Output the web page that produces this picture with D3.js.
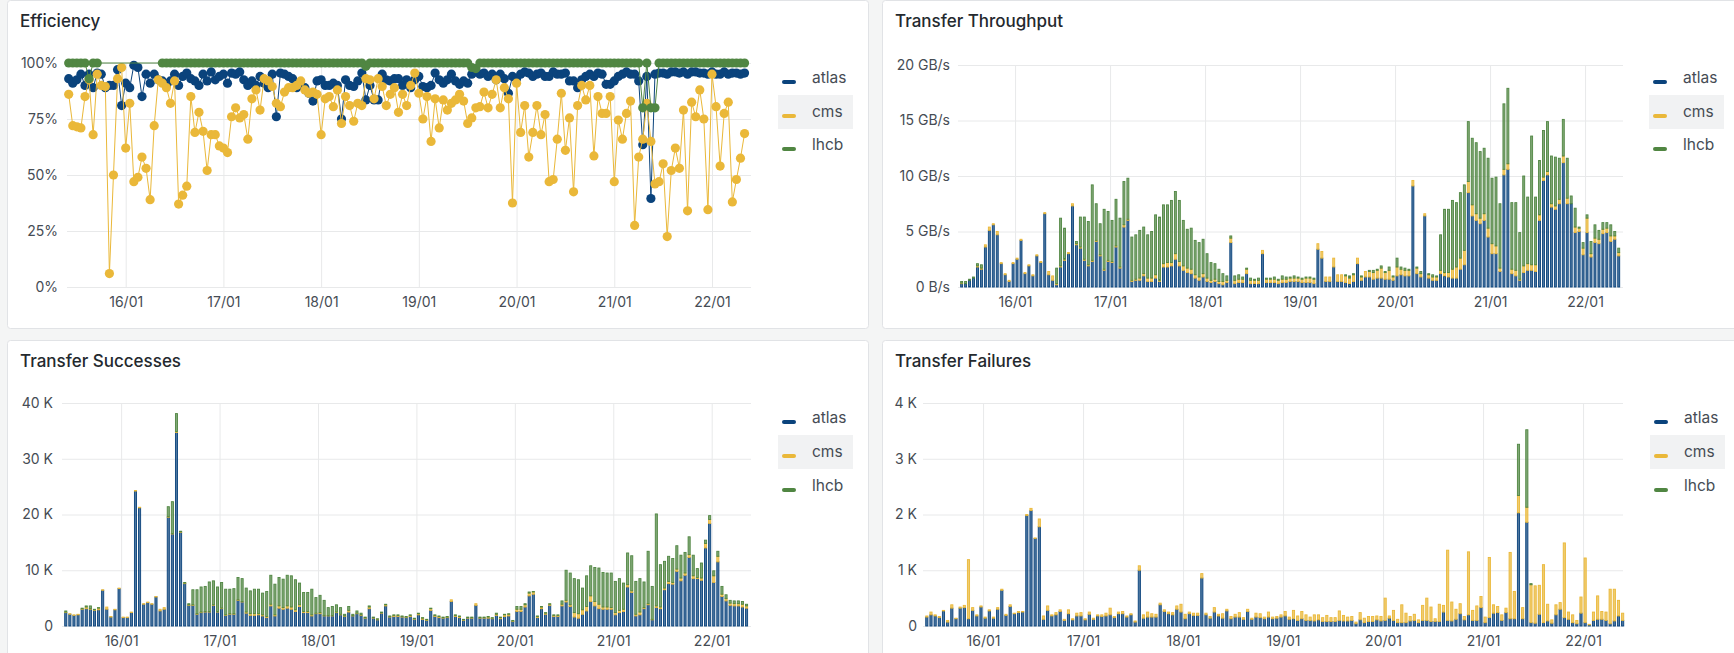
<!DOCTYPE html>
<html lang="en">
<head>
<meta charset="utf-8">
<script src="https://cdn.jsdelivr.net/npm/d3@7"></script>
<style>
  body { margin: 0; background: #f4f5f5; font-family: Inter, "Noto Sans", sans-serif; }
  svg { display: block; }
</style>
</head>
<body>
<svg id="dash" width="1734" height="653"></svg>
<script>
// experiments and their colours
var names = ["atlas", "cms", "lhcb"];
var colors = ["#0a437c", "#eab839", "#508642"];

// hourly samples start 15/01 10:00
var t0 = new Date(2024, 0, 15, 10, 0);
var domStart = new Date(2024, 0, 15, 9, 35);
var domEnd = new Date(2024, 0, 22, 9, 35);
var dayTicks = [16, 17, 18, 19, 20, 21, 22];

// Efficiency (%)
var effAtlas = [93,91,92.5,95,90,95,89,95.5,95,89,
  90,90,97,81,91,89,99,98,85,95,
  91,95,92.5,92,90,92,95,90,94,95.5,
  93,92,90,95,92,96,92.5,94,95,91,
  95.5,95,96,92.5,90,92,90,94,91,89,
  95,76,95.5,95,94,93,89,90,89,86.5,
  83,92,92.5,90,90,91,90,75,92.5,90,
  89.5,92,95.5,83.5,90,83.5,83.5,95,92.5,92,
  93,93,90,92.5,89,92.5,94,89.5,89,90,
  95.5,92.5,91,92.5,95,92,90.5,92,91,95,
  96,95,95.5,94,95,92.5,95,93,86.5,94,
  93,95,96,95.5,94,95,95.5,94,94,96,
  95,95,95.5,92,92,89,92.5,94,95,94,
  95.5,95,90.5,90.5,92,94,95,96,95,95,
  92,63.5,94,39.5,95,95.5,95.5,95,96,96,
  95.5,96,95,96,96,95.5,95.5,95,96,95,
  95,96,95,95.5,95.5,95,95.5];
var effCms = [86,72,71.5,71,85,92.5,68,95,90,89.5,
  6,50,93,98,62,82,47,49,58,53,
  39,72,92.5,91,89,82,92,37,41,45,
  85,69,78,69.5,52,68,68,63,62,60,
  76,80,75.5,77,66,84,88,79,93,92,
  89.5,82,80.5,87,89,89,90,92,88,86.5,
  87,86,68,84,85,80.5,88,73,85,81,
  74,82,81,93,92.5,84,93,89.5,81,86,
  89,78,86,81,90,95.5,86.5,75,85,65,
  84,71,83.5,79,82,83.5,86,83,73,75.5,
  80,80.5,87,80,86,92.5,80,89,84,37.5,
  91,69,81,58,69,81,68,77,47,48,
  66,86.5,61,75.5,42.5,81,90,83.5,90,58.5,
  85,77.5,77.5,85,47,74.5,66,77.5,83,27.5,
  58,66,82,65,46,47,55,22.5,52,62,
  53,79,34,82.5,76,88,75,34.5,95,80.5,
  54,77.5,82.5,38,48,57.5,68.5];
var effLhcb = [100,100,100,100,100,93,100,100,null,null,
  null,null,null,null,null,null,null,null,null,null,
  null,null,null,100,100,100,100,100,100,100,
  100,100,100,100,100,100,100,100,100,100,
  100,100,100,100,100,100,100,100,100,100,
  100,100,100,100,100,100,100,100,100,100,
  100,100,100,100,100,100,100,100,100,100,
  100,100,100,98.5,100,100,100,100,100,100,
  100,100,100,100,100,100,100,100,100,100,
  100,100,100,100,100,100,100,100,100,98,
  97.5,100,100,100,100,100,100,100,100,100,
  100,100,100,100,100,100,100,100,100,100,
  100,100,100,100,100,100,100,100,100,100,
  100,100,100,100,100,100,100,100,100,100,
  100,80,100,80,80,100,100,100,100,100,
  100,100,100,100,100,100,100,100,100,100,
  100,100,100,100,100,100,100];

// Transfer Throughput (GB/s)
var thrAtlas = [0.3,0.3,0.6,0.8,1.8,1.6,3.6,5.1,5.6,4.7,
  2.1,1.1,0.5,2.1,2.5,4.2,1.2,1.9,1.0,2.8,
  2.2,6.6,1.1,0.6,0.2,1.8,2.4,3.0,7.3,3.8,
  3.5,2.4,1.9,2.3,4.1,2.8,1.5,2.3,2.2,3.6,
  1.7,5.4,6.0,0.5,0.6,0.6,1.0,0.5,0.5,0.8,
  0.5,1.8,1.8,1.9,2.5,1.9,1.5,1.3,1.2,0.8,
  0.6,0.9,0.5,0.4,0.5,0.3,0.2,0.4,4.0,0.3,
  0.4,0.4,1.2,0.3,0.3,0.3,3.0,0.4,0.4,0.4,
  0.3,0.4,0.4,0.5,0.5,0.5,0.4,0.4,0.4,0.3,
  3.4,2.6,0.5,0.5,1.8,0.5,0.5,0.4,0.3,0.5,
  2.1,0.6,0.9,0.9,0.7,0.8,0.8,0.7,0.7,0.6,
  1.0,1.1,1.0,1.0,9.1,1.2,0.9,6.4,0.8,0.6,
  0.6,1.2,1.0,0.9,0.8,0.8,1.6,2.0,8.5,6.4,
  6.0,5.7,6.0,4.5,3.0,3.0,1.4,10.1,10.6,1.2,
  1.0,0.6,1.3,1.5,1.5,1.4,6.0,9.6,10.1,7.2,
  7.0,7.5,11.2,7.5,7.5,4.9,5.0,2.9,4.9,2.7,
  4.0,3.9,4.8,4.9,4.1,4.3,2.8];
var thrCms = [0.05,0,0,0,0.1,0.1,0.2,0.3,0.1,0.3,
  0.1,0.1,0.1,0.1,0.1,0.1,0.1,0.1,0.1,0.1,
  0.1,0.1,0.3,0.4,0.1,0.1,0.1,0.1,0.2,0.1,
  0.1,0.1,0.1,0.1,0.1,0.1,0.1,0.1,0.1,0.1,
  0.1,0.2,0.1,0.1,0.1,0.2,0.2,0.3,0.3,0.3,
  0.1,0.3,0.4,0.3,0.5,0.4,0.4,0.4,0.4,0.3,
  0.3,0.3,0.3,0.2,0.2,0.2,0.3,0.2,0.4,0.3,
  0.3,0.3,0.4,0.3,0.3,0.3,0.3,0.3,0.3,0.3,
  0.3,0.3,0.3,0.3,0.3,0.3,0.3,0.4,0.4,0.4,
  0.5,0.6,0.4,0.4,0.8,0.6,0.6,0.6,0.5,0.6,
  0.5,0.3,0.5,0.5,0.6,0.7,0.9,0.6,0.8,0.3,
  0.8,0.5,0.5,0.5,0.5,0.5,0.3,0.2,0.3,0.3,
  0.3,0.3,0.3,0.4,0.8,1.0,1.0,1.3,1.0,1.0,
  0.6,0.5,0.6,0.8,0.9,0.7,0.3,0.5,0.5,0.4,
  0.5,0.1,0.6,0.6,0.5,0.6,0.5,0.3,0.3,0.3,
  0.3,0.4,0.6,0.5,0,0.5,0.3,0.6,1.3,0.3,
  0.4,0.4,0.4,0.4,0.5,0.3,0.3];
var thrLhcb = [0.15,0.2,0.1,0.1,0.2,0.3,0,0,0,0,
  0,0,0,0,0,0,0,0,0,0,
  0,0,0,0,1.4,4.3,2.8,0,0,0.2,
  2.7,3.8,3.9,6.8,3.3,2.8,5.4,4.4,3.7,4.2,
  4.4,3.9,3.7,3.9,4.0,4.3,4.2,3.9,4.2,5.4,
  5.7,5.3,5.2,5.6,5.6,5.5,4.1,3.5,3.7,3.1,
  3.1,3.1,2.2,1.6,1.4,1.1,0.7,0.4,0.2,0.4,
  0.4,0.2,0.1,0.2,0.1,0.2,0,0.1,0.1,0.2,
  0.1,0.3,0.2,0.1,0.2,0.1,0.1,0.1,0.1,0.1,
  0,0,0,0,0,0,0,0.1,0.2,0.1,
  0,0.1,0,0.1,0.2,0.1,0.2,0.1,0.3,0.1,
  0.8,0.2,0.2,0.1,0,0.1,0.2,0,0.1,0.2,
  0.1,3.2,5.7,5.7,6.2,5.8,5.9,5.9,5.4,6.0,
  6.4,6.0,5.9,6.3,5.9,6.2,5.8,5.9,6.8,6.0,
  6.1,4.2,8.1,6.0,11.6,6.1,4.9,4.2,4.5,4.3,
  4.4,3.7,3.3,3.6,0.7,1.7,0.1,0.5,0.3,1.1,
  1.2,0.8,0.6,0.5,1.0,0.4,0.4];

// Transfer Successes (thousands)
var sucAtlas = [2.4,2.1,1.9,2.0,3.0,3.1,3.0,2.8,2.9,6.4,
  3.0,1.6,2.9,6.7,1.5,1.5,2.4,24.2,21.2,3.9,
  4.2,3.9,5.2,2.7,3.0,19.5,16.5,34.7,16.8,7.6,
  3.7,3.7,2.1,2.4,2.5,2.5,3.7,2.5,3.1,1.9,
  2.1,2.1,4.6,4.3,2.3,1.9,1.9,2.0,1.8,1.5,
  3.6,1.8,3.2,3.0,3.2,3.0,2.6,3.5,2.4,2.4,
  1.8,2.2,2.2,1.8,1.8,1.8,2.4,2.0,1.7,2.5,
  1.8,2.2,1.9,1.4,3.1,1.4,1.1,2.3,3.6,1.6,
  1.7,1.7,1.6,1.5,1.7,1.2,2.0,1.2,1.0,2.8,
  1.7,1.5,1.4,1.5,4.4,1.7,1.5,1.0,1.4,1.4,
  3.7,1.4,1.4,1.4,1.3,1.9,1.3,1.7,1.8,0.8,
  2.6,2.6,3.4,5.4,5.7,1.5,3.1,2.1,3.7,1.7,
  1.7,3.6,4.3,3.5,1.6,1.4,2.1,2.7,4.4,3.6,
  3.1,3.0,3.0,3.0,2.0,2.4,2.6,7.0,6.0,1.8,
  2.0,3.1,3.8,1.1,3.3,3.1,6.5,7.6,7.5,9.8,
  8.1,9.1,12.3,8.5,8.5,8.2,14.0,18.4,7.8,11.5,
  5.3,4.5,3.7,3.6,3.6,3.4,3.2];
var sucCms = [0.1,0.1,0.1,0.1,0.1,0.3,0.1,0.1,0.3,0.1,
  0.4,0.1,0.1,0.1,0.1,0.1,0.1,0.1,0.1,0.1,
  0.1,0.1,0.1,0.3,0.3,0.1,0.1,0.2,0.1,0.1,
  0.1,0.1,0.1,0.1,0.1,0.1,0.1,0.1,0.1,0.1,
  0.1,0.1,0.1,0.1,0.2,0.3,0.3,0.2,0.2,0.2,
  0.3,0.2,0.4,0.3,0.4,0.4,0.3,0.3,0.2,0.2,
  0.2,0.1,0.2,0.1,0.1,0.1,0.1,0.1,0.1,0.3,
  0.1,0.1,0.1,0.1,0.3,0.1,0.1,0.1,0.2,0.1,
  0.2,0.2,0.1,0.1,0.2,0.1,0.2,0.2,0.1,0.3,
  0.2,0.2,0.1,0.1,0.3,0.2,0.2,0.1,0.1,0.1,
  0.3,0.1,0.1,0.2,0.1,0.2,0.2,0.3,0.3,0.1,
  0.4,0.4,0.4,0.5,0.4,0.2,0.3,0.2,0.2,0.2,
  0.2,0.3,0.3,0.3,0.8,0.8,0.8,0.8,1.0,0.8,
  0.8,0.4,0.4,0.3,0.4,0.4,0.4,0.4,0.3,0.3,
  0.5,0.2,0.2,0.1,0.3,0.3,0.3,0.4,0.3,0.4,
  0.5,0.4,0.5,0.5,0.2,0.4,0.8,0.7,1.2,1.0,
  0.4,0.4,0.4,0.4,0.4,0.5,0.4];
var sucLhcb = [0.2,0,0,0,0.1,0.2,0.5,0.1,0.1,0,
  0,0,0,0,0,0,0,0,0,0,
  0,0,0,0,0,1.8,5.7,3.2,0.1,0.1,
  0.2,2.7,4.3,4.5,4.5,5.3,4.3,4.4,4.6,4.6,
  4.4,4.5,4.0,4.1,4.3,4.1,4.4,4.4,3.9,4.5,
  5.2,5.5,5.1,5.1,5.5,5.6,5.4,3.9,3.4,3.4,
  4.6,2.8,3.1,2.7,1.4,1.6,1.3,1.2,0.3,0.7,
  0.2,0.4,0.3,0.1,0.2,0.1,0.1,0.1,0.1,0.1,
  0.1,0.1,0.1,0.1,0.1,0.1,0.1,0.1,0.1,0.1,
  0.1,0.1,0.1,0.1,0,0.1,0.1,0.1,0.1,0.1,
  0,0.1,0.1,0.1,0.1,0.2,0.1,0.1,0.1,0.1,
  0.5,0.5,0.2,0.2,0.1,0.1,0.1,0.1,0.1,0.1,
  0.1,0.6,5.4,5.7,6.1,6.1,3.9,5.5,5.4,6.1,
  6.5,6.2,6.1,6.2,5.6,5.7,4.7,5.7,6.3,5.9,
  6.0,4.6,9.4,5.9,16.5,7.6,4.8,4.5,4.3,4.2,
  4.1,3.7,3.2,3.7,1.6,2.7,0.6,0.7,0.9,0.9,
  1.4,0.7,0.5,0.5,0.5,0.5,0.3];

// Transfer Failures (count)
var failAtlas = [160,200,180,150,270,70,320,130,320,330,
  130,280,180,340,140,270,140,300,640,190,
  350,220,240,250,1980,2070,1570,1780,120,280,
  180,200,260,100,220,110,180,180,110,210,
  120,180,170,180,200,150,220,220,160,200,
  70,1000,140,160,160,160,380,260,220,200,
  300,250,130,220,190,190,860,200,140,250,
  180,140,270,130,160,160,120,260,120,160,
  150,130,160,130,140,160,180,120,130,100,
  130,100,100,90,110,80,80,80,80,100,
  90,90,100,40,110,60,80,80,110,90,
  100,140,100,60,60,60,90,100,60,100,
  100,80,80,80,250,100,90,120,220,110,
  200,100,100,330,60,150,230,240,100,240,
  130,130,2030,130,1860,60,50,210,60,90,
  50,200,300,150,120,60,40,230,60,20,
  100,120,120,100,40,90,180,100];
var failCms = [20,50,20,20,10,30,60,10,20,40,
  1060,50,20,20,20,20,20,30,20,20,
  30,10,20,10,20,40,10,140,60,80,
  20,40,30,20,70,20,50,60,20,40,
  20,20,30,50,120,20,30,40,20,20,
  20,80,60,90,60,50,30,30,30,40,
  60,140,80,30,40,40,80,30,30,80,
  30,80,30,40,50,80,30,40,20,70,
  70,30,90,30,30,40,80,40,150,80,
  130,100,60,110,90,70,110,70,70,170,
  100,70,70,30,130,80,90,90,70,80,
  400,40,180,60,320,170,80,110,50,270,
  400,260,50,310,120,1260,340,180,180,60,
  1130,180,260,200,100,1080,150,110,100,80,
  1190,490,310,200,270,680,670,520,1040,300,
  60,180,120,1340,130,140,60,290,1160,10,
  150,420,140,150,620,570,280,130];
var failLhcb = [0,0,0,0,0,0,0,0,0,0,
  0,0,0,0,0,0,0,0,0,0,
  0,0,0,0,0,0,0,0,0,0,
  0,0,0,0,0,0,0,0,0,0,
  0,0,0,0,0,0,0,0,0,0,
  0,0,0,0,0,0,0,0,0,0,
  0,0,0,0,0,0,0,0,0,0,
  0,0,0,0,0,0,0,0,0,0,
  0,0,0,0,0,0,0,0,0,0,
  0,0,0,0,0,0,0,0,0,0,
  0,0,0,0,0,0,0,0,0,0,
  0,0,0,0,0,0,0,0,0,0,
  0,0,0,0,0,0,0,0,0,0,
  0,0,0,0,0,0,0,0,0,0,
  0,0,920,0,1390,20,0,0,0,0,
  0,0,0,0,0,0,0,0,0,0,
  0,0,0,0,0,0,0,0];

var svg = d3.select("#dash");
var fmtDay = d3.timeFormat("%d/%m");
var hourAt = i => d3.timeHour.offset(t0, i);

function drawPanel(cfg) {
  var g = svg.append("g");

  // panel box + title
  g.append("rect")
    .attr("x", cfg.px + 0.5).attr("y", cfg.py + 0.5)
    .attr("width", cfg.pw).attr("height", cfg.ph)
    .attr("rx", 3)
    .attr("fill", "#fff")
    .attr("stroke", "#e1e3e6");
  g.append("text")
    .attr("x", cfg.px + 13).attr("y", cfg.py + 21)
    .attr("dy", "0.35em")
    .attr("font-size", 17).attr("font-weight", 500)
    .attr("fill", "#24292e")
    .text(cfg.title);

  var x = d3.scaleTime().domain([domStart, domEnd]).range([cfg.x0, cfg.x1]);
  var y = d3.scaleLinear().domain(cfg.yDomain).range([cfg.y0, cfg.y1]);

  // y grid + labels
  var ya = g.append("g")
    .attr("transform", "translate(" + cfg.x0 + ",0)")
    .call(d3.axisLeft(y).tickValues(cfg.yTicks).tickFormat(cfg.fmt)
      .tickSize(-(cfg.x1 - cfg.x0)).tickPadding(cfg.x0 - cfg.labelX));
  // x grid + labels
  var xa = g.append("g")
    .attr("transform", "translate(0," + cfg.y0 + ")")
    .call(d3.axisBottom(x).tickValues(dayTicks.map(d => new Date(2024, 0, d)))
      .tickFormat(fmtDay).tickSize(-(cfg.y0 - cfg.y1)).tickPadding(10));
  [ya, xa].forEach(a => {
    a.select(".domain").remove();
    a.selectAll("line").attr("stroke", "#e8e9ea");
    a.selectAll("text").attr("fill", "#464c54").attr("font-size", 14)
      .attr("font-family", "Inter, sans-serif");
  });

  if (cfg.type === "bar") {
    var rows = cfg.series[0].map((v, i) => ({
      t: hourAt(i), atlas: cfg.series[0][i], cms: cfg.series[1][i], lhcb: cfg.series[2][i]
    }));
    var stacked = d3.stack().keys(names)(rows);
    var slot = x(hourAt(1)) - x(hourAt(0));
    g.selectAll("g.layer")
      .data(stacked)
      .enter().append("g")
      .attr("fill", (d, k) => colors[k])
      .attr("stroke", (d, k) => colors[k])
      .selectAll("rect")
      .data(d => d.filter(p => p[1] - p[0] > 0))
      .enter().append("rect")
      .attr("x", p => x(p.data.t) + 1)
      .attr("width", slot - 2)
      .attr("y", p => y(p[1]))
      .attr("height", p => y(p[0]) - y(p[1]))
      .attr("fill-opacity", 0.72)
      .attr("stroke-width", 0.9);
  } else {
    cfg.series.forEach((vals, k) => {
      var pts = vals.map((v, i) => ({ t: hourAt(i), v: v })).filter(p => p.v != null);
      g.append("path")
        .datum(pts)
        .attr("fill", "none")
        .attr("stroke", colors[k])
        .attr("stroke-width", 1)
        .attr("d", d3.line().x(p => x(p.t)).y(p => y(p.v)));
      g.append("g").selectAll("circle")
        .data(pts)
        .enter().append("circle")
        .attr("cx", p => x(p.t))
        .attr("cy", p => y(p.v))
        .attr("r", 4.6)
        .attr("fill", colors[k]);
    });
  }

  // legend (cms row shown hovered)
  g.append("rect")
    .attr("x", cfg.lg.sw - 4).attr("y", cfg.lg.y[1] - 17)
    .attr("width", 75).attr("height", 34)
    .attr("fill", "#f1f2f3");
  names.forEach((n, k) => {
    g.append("rect")
      .attr("x", cfg.lg.sw).attr("y", cfg.lg.y[k] + 2)
      .attr("width", 14).attr("height", 4).attr("rx", 2)
      .attr("fill", colors[k]);
    g.append("text")
      .attr("x", cfg.lg.sw + 30).attr("y", cfg.lg.y[k])
      .attr("dy", "0.35em")
      .attr("font-size", 15.5)
      .attr("fill", "#464c54")
      .text(n);
  });
}

drawPanel({
  title: "Efficiency", type: "line",
  px: 7, py: 0, pw: 861, ph: 328,
  x0: 67, x1: 751, y0: 287, y1: 63, labelX: 58,
  yDomain: [0, 100], yTicks: [0, 25, 50, 75, 100], fmt: d => d + "%",
  series: [effAtlas, effCms, effLhcb],
  lg: { sw: 782, y: [78, 112, 145] }
});
drawPanel({
  title: "Transfer Throughput", type: "bar",
  px: 882, py: 0, pw: 870, ph: 328,
  x0: 958, x1: 1623, y0: 287, y1: 65, labelX: 950,
  yDomain: [0, 20], yTicks: [0, 5, 10, 15, 20], fmt: d => d === 0 ? "0 B/s" : d + " GB/s",
  series: [thrAtlas, thrCms, thrLhcb],
  lg: { sw: 1653, y: [78, 112, 145] }
});
drawPanel({
  title: "Transfer Successes", type: "bar",
  px: 7, py: 340, pw: 861, ph: 330,
  x0: 62, x1: 751, y0: 626, y1: 403, labelX: 53,
  yDomain: [0, 40], yTicks: [0, 10, 20, 30, 40], fmt: d => d === 0 ? "0" : d + " K",
  series: [sucAtlas, sucCms, sucLhcb],
  lg: { sw: 782, y: [418, 452, 486] }
});
drawPanel({
  title: "Transfer Failures", type: "bar",
  px: 882, py: 340, pw: 870, ph: 330,
  x0: 923, x1: 1623, y0: 626, y1: 403, labelX: 917,
  yDomain: [0, 4000], yTicks: [0, 1000, 2000, 3000, 4000], fmt: d => d === 0 ? "0" : (d / 1000) + " K",
  series: [failAtlas, failCms, failLhcb],
  lg: { sw: 1654, y: [418, 452, 486] }
});
</script>
</body>
</html>
